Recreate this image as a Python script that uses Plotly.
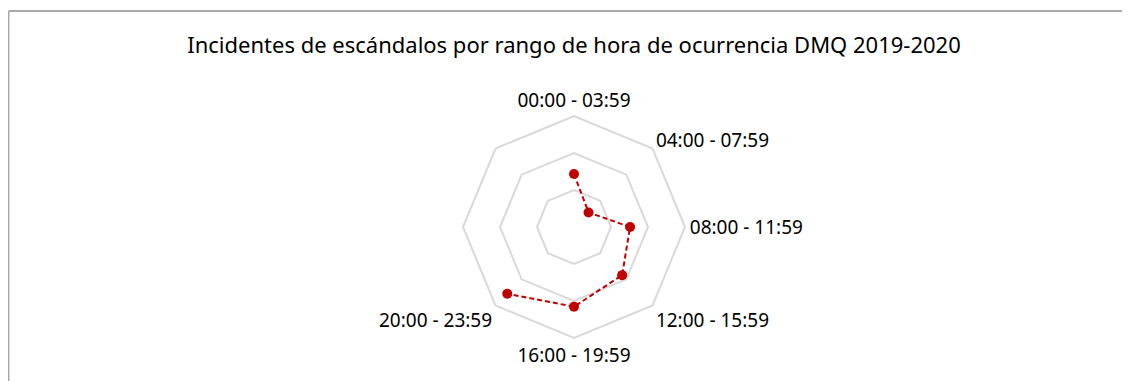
import plotly.graph_objects as go

# rangos horarios (eje angular de 8 posiciones, dos quedan vacías)
rangos = ["00:00 - 03:59", "04:00 - 07:59", "08:00 - 11:59",
          "12:00 - 15:59", "16:00 - 19:59", "20:00 - 23:59"]
posiciones_vacias = [" ", "  "]
incidentes = [716, 278, 758, 920, 1077, 1275]

radial_max = 1500
radial_ticks = [500, 1000, 1500]

W, H = 1130, 381
OFF = 8  # margen del body de la página
GRID = "#d9d9d9"
ROJO = "#c00000"

fig = go.Figure()
fig.add_trace(go.Scatterpolar(
    r=incidentes,
    theta=rangos,
    mode="lines+markers",
    line=dict(color=ROJO, width=2, dash="5px,3px"),
    marker=dict(color=ROJO, size=10),
    showlegend=False,
))

cx, cy, rad = 574 - OFF, 227 - OFF, 111
fig.update_layout(
    width=W, height=H,
    margin=dict(l=0, r=0, t=0, b=0),
    paper_bgcolor="white",
    font=dict(family="Noto Sans", color="#000000", size=19),
    title=dict(
        text="Incidentes de escándalos por rango de hora de ocurrencia DMQ 2019-2020",
        x=(574 - OFF) / W, xanchor="center", y=1 - (45 - OFF) / H, yanchor="middle",
        font=dict(size=22, family="Noto Sans", color="#000000"),
    ),
    polar=dict(
        domain=dict(x=[(cx - rad) / W, (cx + rad) / W],
                    y=[1 - (cy + rad) / H, 1 - (cy - rad) / H]),
        bgcolor="white",
        gridshape="linear",
        angularaxis=dict(
            type="category",
            categoryorder="array",
            categoryarray=rangos + posiciones_vacias,
            direction="clockwise",
            rotation=90,
            showgrid=False,
            ticks="",
            showline=True,
            linecolor=GRID,
            linewidth=2,
            tickfont=dict(size=19),
        ),
        radialaxis=dict(
            range=[0, radial_max],
            tickvals=radial_ticks,
            showticklabels=False,
            ticks="",
            showline=False,
            gridcolor=GRID,
            gridwidth=2,
        ),
    ),
    shapes=[
        dict(type="line", xref="paper", yref="paper",
             x0=0.5 / W, x1=1, y0=1 - (11 - OFF) / H, y1=1 - (11 - OFF) / H,
             line=dict(color="#aaaaaa", width=2)),
        dict(type="line", xref="paper", yref="paper",
             x0=0.5 / W, x1=0.5 / W, y0=0, y1=1 - (11 - OFF) / H,
             line=dict(color="#aaaaaa", width=2)),
    ],
)

fig.write_html("out.html")
